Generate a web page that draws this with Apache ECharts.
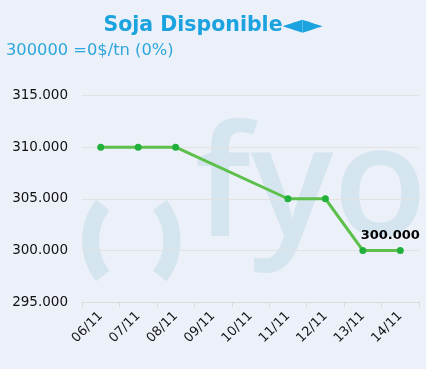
<!DOCTYPE html>
<html>
<head>
<meta charset="utf-8">
<script src="https://cdn.jsdelivr.net/npm/echarts@6/dist/echarts.min.js"></script>
<style>
html,body{margin:0;padding:0;background:#ecf0f9;}
#c{width:426px;height:369px;}
</style>
</head>
<body>
<div id="c"></div>
<script>
var titleMain = 'Soja Disponible';
var titleArrows = '\u25C4\u25BA';
var subtitleText = '300000 =0$/tn (0%)';
var categories = ['06/11','07/11','08/11','09/11','10/11','11/11','12/11','13/11','14/11'];
var values = [310000, 310000, 310000, null, null, 305000, 305000, 300000, 300000];
var yMin = 295000, yMax = 315000, yStep = 5000;
var labelIndex = 8;

function fmt(v){
  var s = String(Math.round(v));
  return s.replace(/\B(?=(\d{3})+(?!\d))/g, '.');
}

var chart = echarts.init(document.getElementById('c'), null, {renderer:'canvas'});
var wm = '#d4e5ef';
chart.setOption({
  backgroundColor: '#ecf0f9',
  animation: false,
  title: [
    {text: '{a|' + titleMain + '}{b|' + titleArrows + '}', left: 'center', top: 8,
     textStyle: {rich: {
       a: {fontFamily: 'DejaVu Sans', fontWeight: 'bold', fontSize: 20.5, color: '#1ba3df'},
       b: {fontFamily: 'DejaVu Sans', fontWeight: 'bold', fontSize: 26, color: '#1ba3df'}
     }}},
    {text: subtitleText, left: 1, top: 38,
     textStyle: {fontFamily: 'DejaVu Sans', fontWeight: 'normal', fontSize: 16.3, color: '#2ea7dd'}}
  ],
  graphic: [
    {type: 'arc', z: -10, silent: true, shape: {cx: 148.6, cy: 240.5, r: 58, startAngle: Math.PI - 0.66, endAngle: Math.PI + 0.66},
     style: {stroke: wm, lineWidth: 17, fill: null}},
    {type: 'arc', z: -10, silent: true, shape: {cx: 114, cy: 240.5, r: 58, startAngle: -0.66, endAngle: 0.66},
     style: {stroke: wm, lineWidth: 17, fill: null}},
    {type: 'text', z: -10, silent: true, left: 195, top: 115,
     style: {text: 'fyo', fill: wm, font: '600 154px "Open Sans"'}}
  ],
  grid: {left: 82, right: 7, top: 95.5, bottom: 67, containLabel: false, outerBoundsMode: 'none'},
  xAxis: {
    type: 'category', data: categories, boundaryGap: true,
    axisLine: {show: true, lineStyle: {color: '#dcdcdc'}},
    axisTick: {show: true, length: 5, lineStyle: {color: '#dcdcdc'}},
    axisLabel: {rotate: 45, margin: 12, fontFamily: 'DejaVu Sans', fontSize: 13, color: '#111', interval: 0}
  },
  yAxis: {
    type: 'value', min: yMin, max: yMax, interval: yStep,
    axisLine: {show: false}, axisTick: {show: false},
    splitLine: {lineStyle: {color: '#e2e2e2'}},
    axisLabel: {margin: 14, fontFamily: 'DejaVu Sans', fontSize: 13.5, color: '#111', formatter: fmt}
  },
  series: [{
    type: 'line', connectNulls: true,
    data: values.map(function(v, i){
      if (i === labelIndex) {
        return {value: v, label: {show: true, position: 'top', offset: [-10, 0], formatter: function(p){return fmt(p.value);},
          fontFamily: 'DejaVu Sans', fontWeight: 'bold', fontSize: 13, color: '#000'}};
      }
      return v;
    }),
    symbol: 'circle', symbolSize: 7, showSymbol: true,
    lineStyle: {color: '#5cc04a', width: 3},
    itemStyle: {color: '#22b03c'}
  }]
});
</script>
</body>
</html>
